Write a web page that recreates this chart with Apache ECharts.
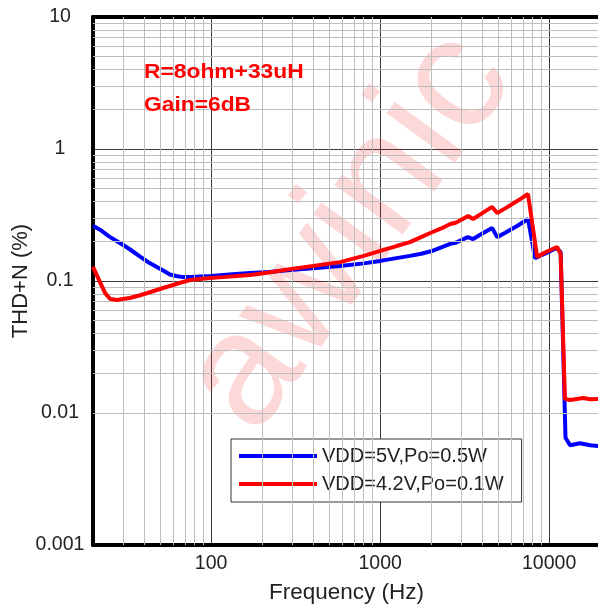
<!DOCTYPE html>
<html>
<head>
<meta charset="utf-8">
<script src="https://cdn.jsdelivr.net/npm/echarts@6/dist/echarts.min.js"></script>
<style>
html,body{margin:0;padding:0;background:#fff;}
#chart{width:598px;height:608px;}
</style>
</head>
<body>
<div id="chart"></div>
<script>
// ---- data ----
const seriesNames = ['VDD=5V,Po=0.5W', 'VDD=4.2V,Po=0.1W'];

const freqBlue = [20, 22, 25, 30, 33, 38, 42, 48, 52, 57, 62, 68, 75, 86, 100, 118, 140, 170, 220, 293, 400, 580, 800, 1000, 1250, 1500, 1750, 2000, 2300, 2600, 2800, 3300, 3550, 4000, 4600, 4930, 5500, 6500, 7500, 8250, 9500, 11100, 11700, 12500, 13300, 15200, 17500, 20000];
const thdBlue  = [0.262, 0.245, 0.217, 0.188, 0.174, 0.153, 0.140, 0.127, 0.120, 0.112, 0.109, 0.107, 0.107, 0.108, 0.109, 0.111, 0.113, 0.115, 0.117, 0.121, 0.125, 0.130, 0.136, 0.142, 0.149, 0.155, 0.161, 0.168, 0.180, 0.191, 0.195, 0.215, 0.208, 0.228, 0.252, 0.215, 0.232, 0.262, 0.295, 0.149, 0.162, 0.178, 0.165, 0.0065, 0.0057, 0.0059, 0.0057, 0.0056];

const freqRed = [20, 22, 23.6, 25.3, 27.8, 30, 33, 38, 42, 52, 65, 75, 98, 118, 170, 220, 293, 400, 580, 800, 1000, 1250, 1500, 1720, 1980, 2300, 2600, 2800, 3320, 3550, 4000, 4600, 4930, 5500, 6500, 7500, 8490, 9500, 11140, 11700, 12400, 13300, 15900, 17500, 20000];
const thdRed  = [0.128, 0.098, 0.081, 0.0731, 0.0718, 0.073, 0.0743, 0.078, 0.0811, 0.0885, 0.0966, 0.1018, 0.1054, 0.107, 0.111, 0.116, 0.123, 0.130, 0.139, 0.155, 0.169, 0.184, 0.197, 0.213, 0.231, 0.250, 0.270, 0.276, 0.311, 0.295, 0.325, 0.364, 0.327, 0.355, 0.405, 0.456, 0.152, 0.165, 0.181, 0.160, 0.0128, 0.01253, 0.0130, 0.0127, 0.0128];

const xTickLabels = {100: '100', 1000: '1000', 10000: '10000'};
const yTickLabels = {'-3': '0.001', '-2': '0.01', '-1': '0.1', '0': '1', '1': '10'};
const noteLines = ['R=8ohm+33uH', 'Gain=6dB'];
const watermark = 'awinic';

// minor grid positions (2..9 within each decade)
const xMinor = [];
[10, 100, 1000].forEach(d => { for (let k = 2; k <= 9; k++) { const v = k * d; if (v > 20) xMinor.push(v); } });
const yMinor = [];
[0.001, 0.01, 0.1, 1].forEach(d => { for (let k = 2; k <= 9; k++) yMinor.push(+(k * d).toPrecision(3)); });

const FONT = 'Arial, "Liberation Sans", sans-serif';
const chart = echarts.init(document.getElementById('chart'), null, {renderer: 'canvas'});

const minorLines = xMinor.map(v => ({xAxis: v})).concat(yMinor.map(v => ({yAxis: v})));

chart.setOption({
  animation: false,
  backgroundColor: '#fff',
  grid: {left: 93, top: 17, width: 507, height: 528, containLabel: false, outerBoundsMode: 'none'},
  xAxis: [{
    type: 'log', logBase: 10, min: 20, max: 20000, position: 'bottom',
    axisLine: {show: true, onZero: false, lineStyle: {color: '#000', width: 4}},
    axisTick: {show: false},
    axisLabel: {
      margin: 9, fontSize: 19.5, color: '#222', fontFamily: FONT,
      formatter: v => xTickLabels[Math.round(v)] || ''
    },
    splitLine: {show: true, lineStyle: {color: '#3a3a3a', width: 1}},
    name: 'Frequency (Hz)', nameLocation: 'middle', nameGap: 36, nameMoveOverlap: false,
    nameTextStyle: {fontSize: 22.5, color: '#222', fontFamily: FONT}
  }, {
    type: 'log', logBase: 10, min: 20, max: 20000, position: 'top',
    axisLine: {show: true, onZero: false, lineStyle: {color: '#000', width: 4}},
    axisTick: {show: false}, axisLabel: {show: false}, splitLine: {show: false}
  }],
  yAxis: {
    type: 'log', logBase: 10, min: 0.001, max: 10,
    axisLine: {show: true, onZero: false, lineStyle: {color: '#000', width: 4}},
    axisTick: {show: false},
    axisLabel: {
      margin: 33, align: 'center', fontSize: 19.5, color: '#222', fontFamily: FONT,
      formatter: v => yTickLabels[String(Math.round(Math.log10(v)))] || ''
    },
    splitLine: {show: true, lineStyle: {color: '#3a3a3a', width: 1}},
    name: 'THD+N (%)', nameLocation: 'middle', nameGap: 61, nameMoveOverlap: false,
    nameTextStyle: {fontSize: 22, color: '#222', fontFamily: FONT}
  },
  legend: {
    data: seriesNames, orient: 'vertical', left: 231, top: 439,
    padding: [7, 18, 8, 8], itemGap: 8, itemWidth: 78, itemHeight: 4, icon: 'rect',
    backgroundColor: '#fff', borderColor: '#333', borderWidth: 1, borderRadius: 0,
    textStyle: {fontSize: 20, color: '#222', fontFamily: FONT, lineHeight: 20}
  },
  graphic: [
    {type: 'text', x: 144, y: 72, scaleX: 1.14, z: 10,
     style: {text: noteLines[0], font: 'bold 20px ' + FONT, fill: '#ff0000', align: 'left', verticalAlign: 'middle'}},
    {type: 'text', x: 144, y: 105.5, scaleX: 1.14, z: 10,
     style: {text: noteLines[1], font: 'bold 20px ' + FONT, fill: '#ff0000', align: 'left', verticalAlign: 'middle'}},
    {type: 'text', x: 350, y: 232, rotation: 54 * Math.PI / 180, z: 1, silent: true,
     style: {text: watermark, font: '160px ' + FONT, fill: 'rgba(245,40,40,0.18)', align: 'center', verticalAlign: 'middle'}}
  ],
  series: [
    {
      type: 'line', name: '_minor', data: [], z: 1, silent: true,
      markLine: {silent: true, symbol: 'none', animation: false, label: {show: false},
        lineStyle: {color: '#bdbdbd', width: 1, type: 'solid'}, emphasis: {disabled: true},
        data: minorLines}
    },
    {
      type: 'line', name: seriesNames[0], z: 4, showSymbol: false, symbol: 'none',
      lineStyle: {color: '#0000ff', width: 4}, itemStyle: {color: '#0000ff'},
      data: freqBlue.map((f, i) => [f, thdBlue[i]])
    },
    {
      type: 'line', name: seriesNames[1], z: 5, showSymbol: false, symbol: 'none',
      lineStyle: {color: '#ff0000', width: 4}, itemStyle: {color: '#ff0000'},
      data: freqRed.map((f, i) => [f, thdRed[i]])
    }
  ]
});
</script>
</body>
</html>
